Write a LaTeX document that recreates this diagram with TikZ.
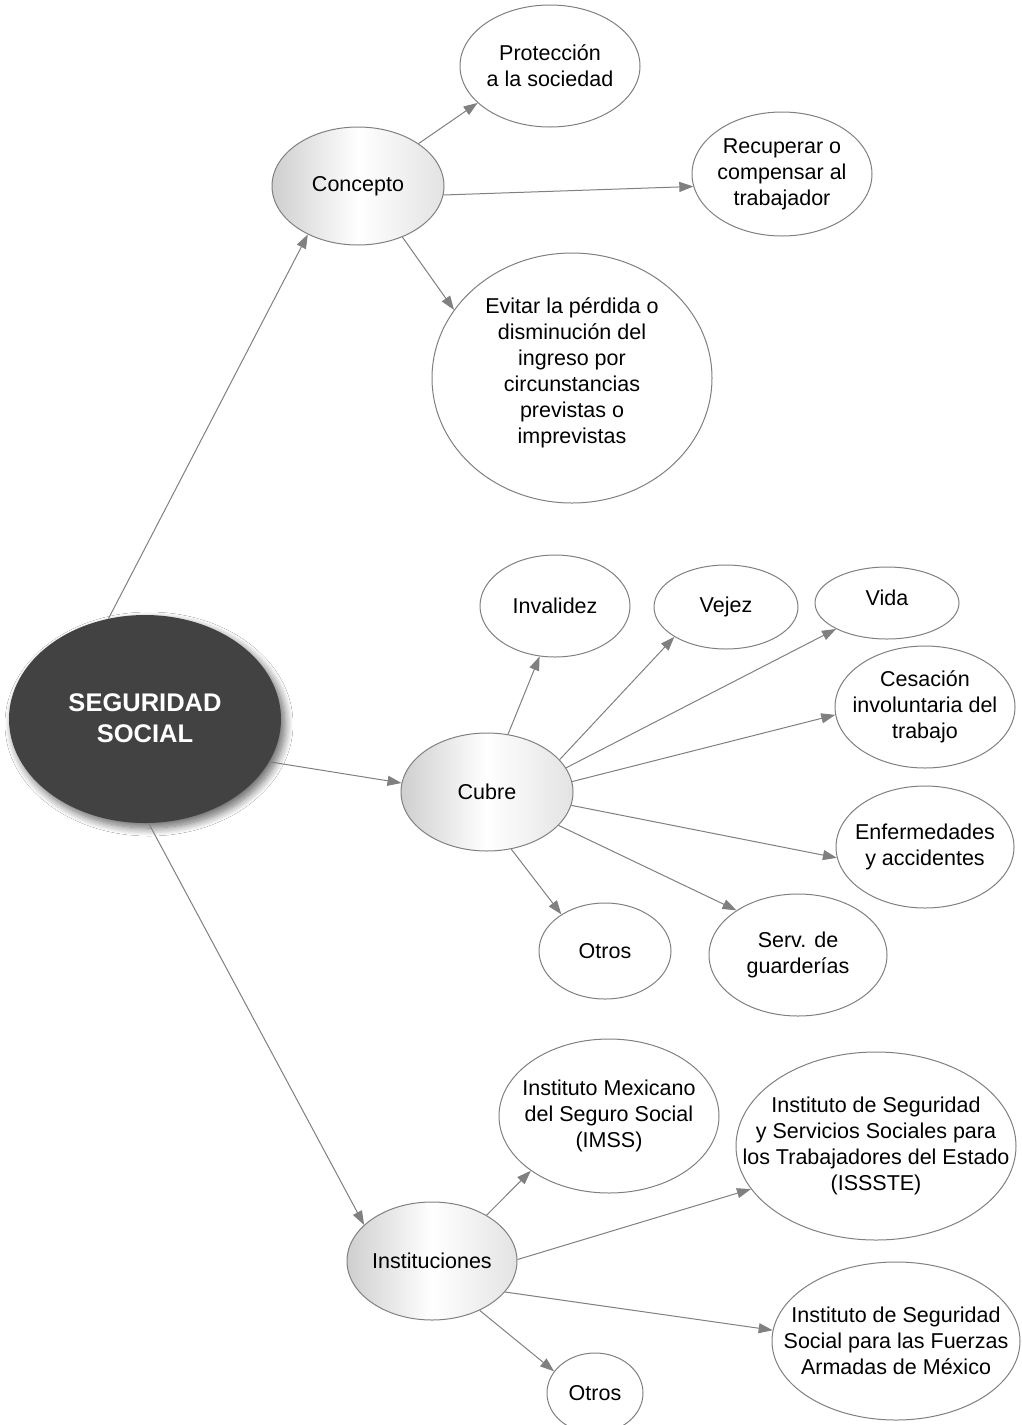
\documentclass[tikz,border=0pt]{standalone}
\usepackage{fontspec}
\setmainfont{Liberation Sans}
\usetikzlibrary{shapes.geometric,arrows.meta,shadows.blur}
\definecolor{lineg}{HTML}{808080}
\definecolor{ssfill}{HTML}{424242}
\tikzset{
  ell/.style={ellipse, draw=lineg, line width=1pt, inner sep=0pt},
  grad/.style={ell, left color=black!19, right color=black!11, middle color=white},
  plain/.style={ell, fill=white},
  sz/.style 2 args={minimum width=#1, minimum height=#2},
  txt/.style={align=center, inner sep=0pt, font=\fontsize{21.5}{26}\selectfont},
  sstxt/.style={align=center, inner sep=0pt, text=white, font=\bfseries\fontsize{25.5}{31}\selectfont},
  conn/.style={draw=lineg, line width=1pt, -{Triangle[length=14pt,width=10pt]}},
}
\begin{document}
\begin{tikzpicture}[x=1pt,y=-1pt]
\useasboundingbox (0,0) rectangle (1021,1425);
\fill[white] (0,0) rectangle (1021,1425);

% root
\node[ellipse, fill=ssfill, inner sep=0pt, sz={272pt}{208pt},
      blur shadow={shadow xshift=4pt, shadow yshift=-5pt, shadow blur radius=8pt, shadow blur steps=12, shadow opacity=60}]
      (ss) at (145,719) {};
\node[sstxt] (ss-t) at ([yshift=1pt]ss.center) {SEGURIDAD\\SOCIAL};

% level 1
\node[grad, sz={172pt}{118pt}] (concepto) at (358,186) {};
\node[txt] (concepto-t) at (concepto) {Concepto};
\node[grad, sz={172pt}{118pt}] (cubre) at (487,792) {};
\node[txt] (cubre-t) at (cubre) {Cubre};
\node[grad, sz={170pt}{118pt}] (inst) at (432,1261) {};
\node[txt] (inst-t) at (inst) {Instituciones};

% Concepto children
\node[plain, sz={180pt}{122pt}] (prot) at (550,66) {};
\node[txt] (prot-t) at (prot) {Protección\\a la sociedad};
\node[plain, sz={180pt}{124pt}] (recu) at (782,174) {};
\node[txt] (recu-t) at (recu) {Recuperar o\\compensar al\\trabajador};
\node[plain, sz={280pt}{250pt}] (evit) at (572,378) {};
\node[txt] (evit-t) at ([yshift=5pt]evit.center) {Evitar la pérdida o\\disminución del\\ingreso por\\circunstancias\\previstas o\\imprevistas};

% Cubre children
\node[plain, sz={150pt}{102pt}] (inval) at (555,606) {};
\node[txt] (inval-t) at (inval) {Invalidez};
\node[plain, sz={144pt}{84pt}] (vejez) at (726,607) {};
\node[txt] (vejez-t) at (vejez) {Vejez};
\node[plain, sz={144pt}{72pt}] (vida) at (887,603) {};
\node[txt] (vida-t) at ([yshift=5pt]vida.center) {Vida};
\node[plain, sz={180pt}{122pt}] (cesa) at (925,707) {};
\node[txt] (cesa-t) at (cesa) {Cesación\\involuntaria del\\trabajo};
\node[plain, sz={178pt}{122pt}] (enfe) at (925,847) {};
\node[txt] (enfe-t) at (enfe) {Enfermedades\\y accidentes};
\node[plain, sz={132pt}{96pt}] (otros) at (605,951) {};
\node[txt] (otros-t) at (otros) {Otros};
\node[plain, sz={178pt}{122pt}] (serv) at (798,955) {};
\node[txt] (serv-t) at (serv) {Serv. de\\guarderías};

% Instituciones children
\node[plain, sz={220pt}{154pt}] (imss) at (609,1116) {};
\node[txt] (imss-t) at (imss) {Instituto Mexicano\\del Seguro Social\\(IMSS)};
\node[plain, sz={280pt}{188pt}] (issste) at (876,1146) {};
\node[txt] (issste-t) at (issste) {Instituto de Seguridad\\y Servicios Sociales para\\los Trabajadores del Estado\\(ISSSTE)};
\node[plain, sz={248pt}{158pt}] (fuerzas) at (896,1341) {};
\node[txt] (fuerzas-t) at (fuerzas) {Instituto de Seguridad\\Social para las Fuerzas\\Armadas de México};
\node[plain, sz={96pt}{80pt}] (otros2) at (595,1393) {};
\node[txt] (otros2-t) at (otros2) {Otros};

% connectors
\draw[conn] (ss.110) -- (concepto.224);
\draw[conn] (ss.341) -- (cubre.174);
\draw[conn] (ss.272) -- (inst.152);

\draw[conn] (concepto.35) -- (prot.207);
\draw[conn] (concepto.354) -- (recu.188);
\draw[conn] (concepto.311) -- (evit.150);

\draw[conn] (cubre.70) -- (inval.253);
\draw[conn] (cubre.24) -- (vejez.210);
\draw[conn] (cubre.17) -- (vida.207);
\draw[conn] (cubre.7.5) -- (cesa.185);
\draw[conn] (cubre.351) -- (enfe.187);
\draw[conn] (cubre.335) -- (serv.144);
\draw[conn] (cubre.293) -- (otros.140);

\draw[conn] (inst.40) -- (imss.215);
\draw[conn] (inst.1) -- (issste.199);
\draw[conn] (inst.337) -- (fuerzas.175);
\draw[conn] (inst.314) -- (otros2.152);
\end{tikzpicture}
\end{document}
